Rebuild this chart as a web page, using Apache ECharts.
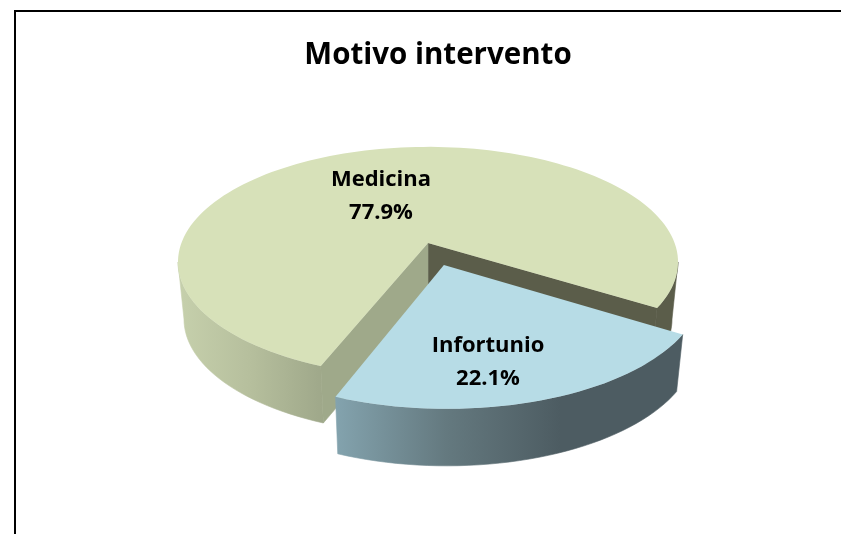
<!DOCTYPE html>
<html>
<head>
<meta charset="utf-8">
<title>Motivo intervento</title>
<script src="https://cdn.jsdelivr.net/npm/echarts@6/dist/echarts.min.js"></script>
<style>
  html, body { margin: 0; padding: 0; background: #fff; }
  #chart { width: 841px; height: 534px; }
</style>
</head>
<body>
<div id="chart"></div>
<script>
const categories = ['Medicina', 'Infortunio'];
const shares = [77.9, 22.1];

const START_ANGLE = 201.6; // degrees clockwise from the back of the pie
const EXPLODE = [0, 0.2];
const LABEL_POS = [[381, 196], [488, 362.5]];
const FONT = '"Open Sans"';

// perspective of the pie plane, measured on the picture
const CX = 428;
const CY = 243;
const SCALE_X = 246.6;
const SCALE_Y = 112;
const TILT = 0.165;
const DEPTH = 57;
const DEPTH_SHRINK = 0.976; // bottom face is a bit narrower than the top

// angle where the rim meets the outline of the ellipse
const SILHOUETTE = Math.acos(-TILT) * 180 / Math.PI;

function project(x, y, z) {
  const w = 1 - TILT * y;
  const sx = z ? DEPTH_SHRINK : 1;
  return [CX + SCALE_X * sx * x / w, CY + SCALE_Y * y / w + DEPTH * z];
}

function arcPoints(from, to, off, z) {
  const pts = [];
  const steps = Math.max(2, Math.ceil(Math.abs(to - from) / 2));
  for (let i = 0; i <= steps; i++) {
    const t = (from + (to - from) * i / steps) * Math.PI / 180;
    pts.push(project(Math.sin(t) + off[0], -Math.cos(t) + off[1], z));
  }
  return pts;
}

function rim(from, to, off, fill) {
  const pts = arcPoints(from, to, off, 0).concat(arcPoints(from, to, off, 1).reverse());
  return { type: 'polygon', shape: { points: pts }, style: { fill: fill, stroke: fill, lineWidth: 0.6 } };
}

function wall(angle, off, fill) {
  const t = angle * Math.PI / 180;
  const ex = Math.sin(t) + off[0];
  const ey = -Math.cos(t) + off[1];
  const pts = [
    project(off[0], off[1], 0), project(ex, ey, 0),
    project(ex, ey, 1), project(off[0], off[1], 1)
  ];
  return { type: 'polygon', shape: { points: pts }, style: { fill: fill, stroke: fill, lineWidth: 0.6 } };
}

function sideGradient(x0, x1, stops) {
  return new echarts.graphic.LinearGradient(x0, 0, x1, 0, stops.map((c, i) => ({
    offset: i / (stops.length - 1), color: c
  })), true);
}

function renderSlice(params, api) {
  const i = params.dataIndex;
  const before = shares.slice(0, i).reduce((a, b) => a + b, 0);
  const total = shares.reduce((a, b) => a + b, 0);
  const from = START_ANGLE + before / total * 360;
  const to = from + api.value(1) / total * 360;
  const mid = (from + to) / 2 * Math.PI / 180;
  const off = [Math.sin(mid) * EXPLODE[i], -Math.cos(mid) * EXPLODE[i]];

  const top = arcPoints(from, to, off, 0);
  top.push(project(off[0], off[1], 0));

  const children = [];
  if (categories[i] === 'Medicina') {
    children.push(rim(from, 360 - SILHOUETTE, off, sideGradient(178, 322, ['#c6d0ac', '#b6bf9d', '#9fa88a'])));
    children.push(rim(360 + SILHOUETTE, to, off, '#5b5d4a'));
    children.push(wall(to, off, '#5b5d4a'));
    children.push(wall(from, off, '#9fa98a'));
    children.push({ type: 'polygon', shape: { points: top }, style: { fill: '#d7e1b9' } });
  } else {
    children.push(rim(from, to, off, sideGradient(333, 560, ['#84a4af', '#64797f', '#4d5c62'])));
    children.push({ type: 'polygon', shape: { points: top }, style: { fill: '#b7dce6' } });
  }
  children.push({
    type: 'text',
    style: {
      x: LABEL_POS[i][0],
      y: LABEL_POS[i][1],
      text: categories[i] + '\n' + api.value(1).toFixed(1) + '%',
      fill: '#000',
      font: 'bold 22px ' + FONT,
      lineHeight: 33,
      align: 'center',
      verticalAlign: 'middle'
    }
  });
  return { type: 'group', children: children };
}

const chart = echarts.init(document.getElementById('chart'), null, { renderer: 'canvas' });
chart.setOption({
  animation: false,
  backgroundColor: '#fff',
  title: {
    text: 'Motivo intervento',
    left: 433,
    top: 36,
    textAlign: 'center',
    textStyle: { color: '#000', fontFamily: FONT, fontWeight: 'bold', fontSize: 29.5 }
  },
  graphic: [
    { type: 'line', silent: true, shape: { x1: 15, y1: 11, x2: 841, y2: 11 }, style: { stroke: '#000', lineWidth: 2 } },
    { type: 'line', silent: true, shape: { x1: 15, y1: 10, x2: 15, y2: 534 }, style: { stroke: '#000', lineWidth: 2 } }
  ],
  series: [{
    type: 'custom',
    coordinateSystem: 'none',
    silent: true,
    renderItem: renderSlice,
    data: categories.map((name, i) => [i, shares[i]])
  }]
});
</script>
</body>
</html>
